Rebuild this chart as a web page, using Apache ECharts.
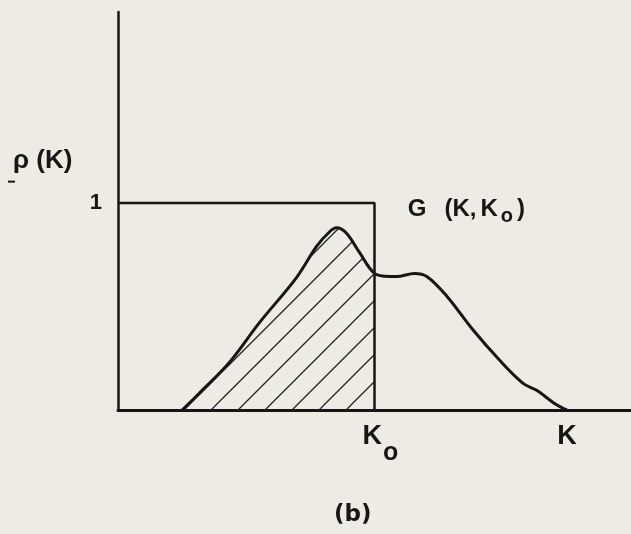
<!DOCTYPE html>
<html>
<head>
<meta charset="utf-8">
<script src="https://cdn.jsdelivr.net/npm/echarts@6/dist/echarts.min.js"></script>
<style>
  html, body { margin: 0; padding: 0; background: #ecebe4; }
  #chart { width: 631px; height: 534px; }
</style>
</head>
<body>
<div id="chart"></div>
<script>
// Spectrum rho(K) and the filter G(K, K0); K in arbitrary units, K0 = 5
const curveK   = [1.25, 1.58, 2.17, 2.75, 3.48, 3.87, 4.12, 4.26, 4.45, 4.71, 5.00, 5.29, 5.43, 5.78, 6.02, 6.41, 6.91, 7.44, 7.89, 8.16, 8.55, 8.75];
const curveRho = [0.00, 0.08, 0.23, 0.42, 0.64, 0.79, 0.86, 0.88, 0.855, 0.76, 0.66, 0.645, 0.645, 0.66, 0.645, 0.55, 0.39, 0.24, 0.13, 0.095, 0.025, 0.00];
const K0 = 5;
const filterK = [0, K0, K0];
const filterG = [1, 1, 0];
const kMark = 8.75;
const yTickLabels = { 1: '1' };

const ink = '#161616';
const pts = curveK.map((k, i) => [k, curveRho[i]]);
const hatchPts = pts.filter(p => p[0] <= K0);

// diagonal hatch tile
const tile = document.createElement('canvas');
tile.width = 27; tile.height = 27;
const tc = tile.getContext('2d');
tc.strokeStyle = '#222';
tc.lineWidth = 1.3;
tc.beginPath();
tc.moveTo(-2, 29); tc.lineTo(29, -2);
tc.moveTo(-2, 2); tc.lineTo(2, -2);
tc.moveTo(25, 29); tc.lineTo(29, 25);
tc.stroke();

const chart = echarts.init(document.getElementById('chart'));
const font = '"Liberation Sans", Arial, sans-serif';
const wide = '"DejaVu Sans", sans-serif';

chart.setOption({
  backgroundColor: '#ecebe4',
  animation: false,
  grid: { left: 118, right: 0, top: 12, bottom: 124 },
  xAxis: {
    type: 'value', min: 0, max: 10, interval: 0.25,
    axisLine: { show: true, lineStyle: { color: ink, width: 3 } },
    axisTick: { show: false },
    splitLine: { show: false },
    axisLabel: {
      margin: 13,
      showMinLabel: true, showMaxLabel: false,
      formatter: v => {
        if (Math.abs(v - K0) < 1e-6) return '{k0|K}{s|o}';
        if (Math.abs(v - kMark) < 1e-6) return '{k|K}';
        return '';
      },
      rich: {
        k0: { fontFamily: font, fontSize: 27, fontWeight: 'bold', color: ink, padding: [0, 0, 0, 12], verticalAlign: 'top' },
        k: { fontFamily: font, fontSize: 27, fontWeight: 'bold', color: ink },
        s: { fontFamily: font, fontSize: 25, fontWeight: 'bold', color: ink, padding: [18, 0, 0, 1], verticalAlign: 'bottom' }
      }
    }
  },
  yAxis: {
    type: 'value', min: 0, max: 1.923, interval: 1,
    axisLine: { show: true, lineStyle: { color: ink, width: 2.5 } },
    axisTick: { show: false },
    splitLine: { show: false },
    axisLabel: {
      margin: 16, padding: [4, 0, 0, 0],
      fontFamily: font, fontSize: 22, fontWeight: 'bold', color: ink,
      formatter: v => yTickLabels[v] || ''
    }
  },
  series: [
    {
      name: 'hatch', type: 'line', data: hatchPts, smooth: 0.35,
      symbol: 'none', lineStyle: { width: 0 },
      areaStyle: { color: { image: tile, repeat: 'repeat' }, opacity: 1 },
      z: 1
    },
    {
      name: 'rho', type: 'line', data: pts, smooth: 0.35,
      symbol: 'none', lineStyle: { color: ink, width: 3 },
      z: 3
    },
    {
      name: 'G', type: 'line', data: filterK.map((k, i) => [k, filterG[i]]),
      symbol: 'none', lineStyle: { color: ink, width: 2.5 },
      z: 2
    }
  ]
});

// text annotations placed through the chart's coordinate system
const at = (x, y) => chart.convertToPixel({ gridIndex: 0 }, [x, y]);
const pRho = at(0, 1.2);
const pG = at(5.65, 0.97);
const pB = at(4.6, 0);
const gFont = 'bold 24px ' + font;
chart.setOption({
  graphic: [
    { type: 'text', left: pRho[0] - 105, top: pRho[1] - 14,
      style: { text: 'ρ (K)', font: 'bold 26px ' + font, fill: ink } },
    { type: 'line', shape: { x1: pRho[0] - 110, y1: pRho[1] + 20, x2: pRho[0] - 103, y2: pRho[1] + 20 },
      style: { stroke: ink, lineWidth: 2 } },
    { type: 'text', left: pG[0], top: pG[1] - 12,
      style: { text: '{g|G}{a|(K}{c|,}{a|K}{s|o}{p|)}',
        rich: {
          g: { font: gFont, fill: ink, padding: [0, 18, 0, 0] },
          a: { font: gFont, fill: ink },
          c: { font: gFont, fill: ink, padding: [0, 4, 0, 0] },
          s: { font: 'bold 20px ' + font, fill: ink, padding: [14, 0, 0, 3] },
          p: { font: gFont, fill: ink, padding: [0, 0, 0, 4] }
        } } },
    { type: 'text', left: pB[0] - 20, top: pB[1] + 94,
      style: { text: '(b)', font: 'bold 23px ' + wide, fill: ink } }
  ]
});
</script>
</body>
</html>
